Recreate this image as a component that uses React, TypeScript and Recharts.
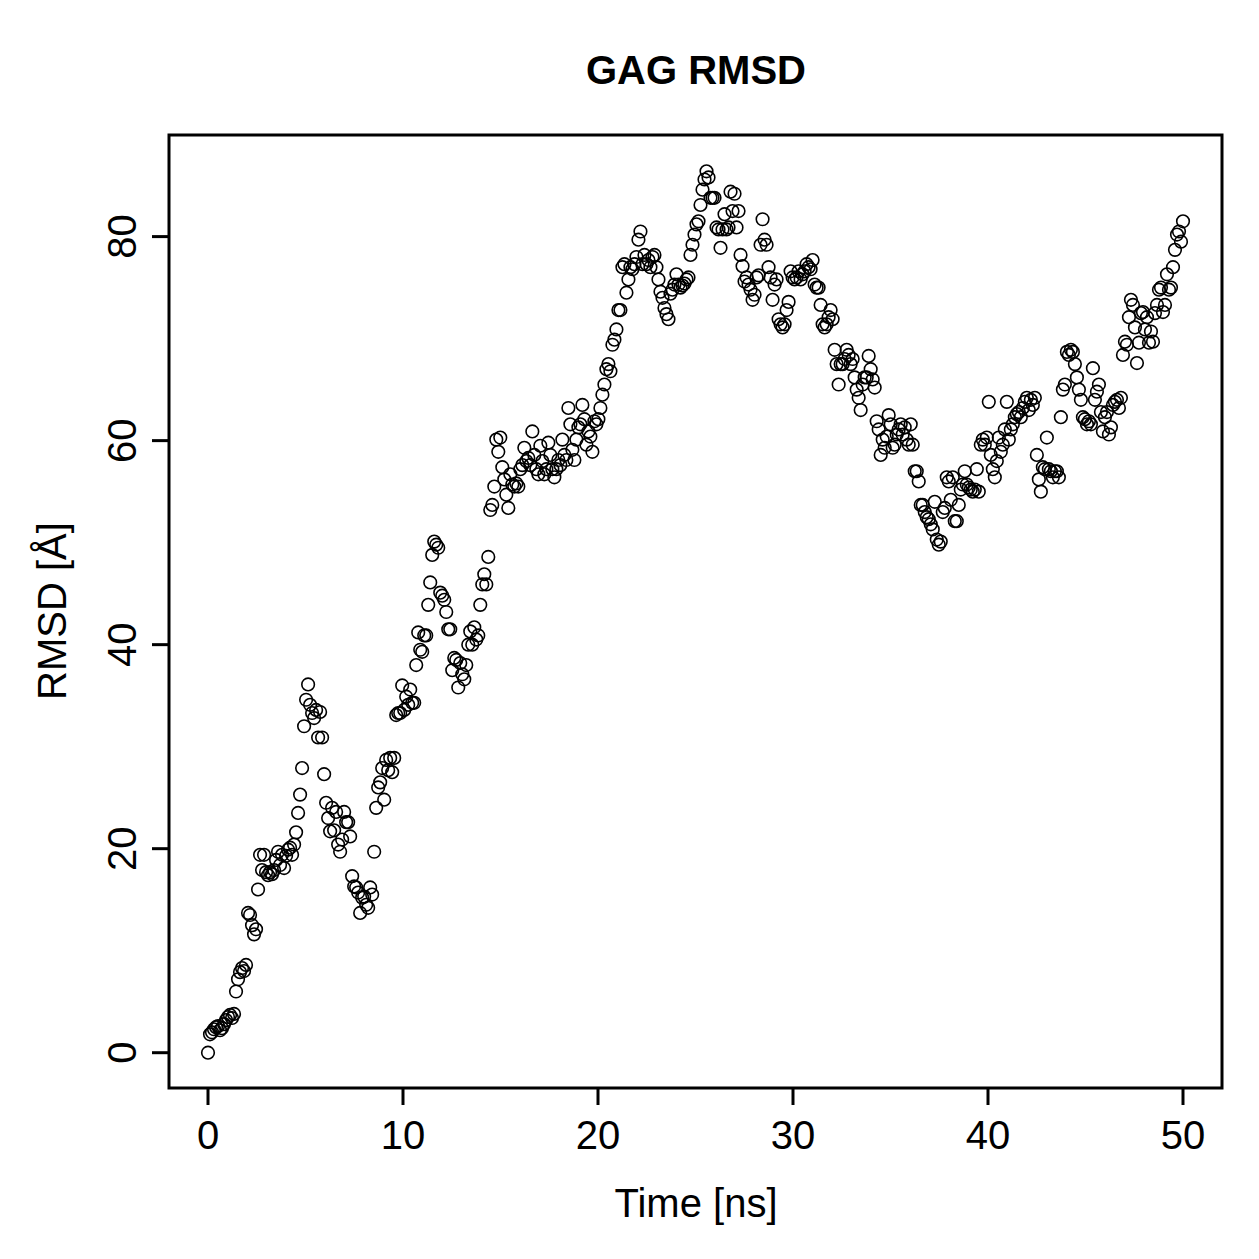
import { ScatterChart, Scatter, XAxis, YAxis, ReferenceArea } from 'recharts'

// RMSD of the GAG over 50 ns, every 0.1 ns
const rmsd = [
  0, 1.8, 2.0, 2.3, 2.5, 2.6, 2.2, 2.4, 2.8, 3.2,
  3.5, 3.7, 3.4, 3.8, 6.0, 7.2, 7.9, 8.3, 8.0, 8.6,
  13.7, 13.5, 12.5, 11.6, 12.1, 16.0, 19.4, 17.9, 19.4, 17.7,
  17.4, 17.7, 17.5, 17.9, 18.9, 19.7, 18.4, 19.4, 18.1, 19.3,
  19.9, 20.1, 19.4, 20.4, 21.6, 23.5, 25.3, 27.9, 32.0, 34.6,
  36.1, 34.1, 33.3, 32.8, 33.6, 30.9, 33.4, 30.9, 27.3, 24.5,
  23.0, 21.7, 24.0, 21.8, 23.6, 20.4, 19.7, 20.9, 23.6, 22.6,
  22.6, 21.2, 17.3, 16.3, 16.2, 15.7, 13.7, 15.2, 15.3, 14.5,
  14.2, 16.2, 15.5, 19.7, 24.0, 26.0, 26.5, 27.9, 24.8, 28.7,
  27.7, 28.9, 27.5, 28.9, 33.1, 33.3, 33.3, 36.0, 33.6, 34.9,
  34.1, 35.6, 34.3, 34.3, 38.0, 41.2, 39.5, 39.3, 40.9, 40.9,
  43.9, 46.1, 48.8, 50.1, 49.8, 49.5, 45.1, 44.8, 44.4, 43.2,
  41.5, 41.5, 37.5, 38.7, 38.5, 35.8, 38.2, 37.1, 36.6, 38.0,
  40.0, 41.3, 40.0, 41.7, 40.5, 40.9, 43.9, 45.9, 46.9, 45.9,
  48.6, 53.2, 53.7, 55.5, 60.1, 58.9, 60.3, 57.4, 56.2, 54.7,
  53.4, 56.7, 55.7, 55.5, 55.8, 55.5, 57.2, 57.6, 59.3, 58.0,
  58.3, 57.6, 60.9, 58.6, 57.2, 56.7, 59.5, 58.0, 56.7, 57.2,
  59.8, 58.6, 57.2, 56.4, 57.2, 58.1, 57.6, 60.1, 58.6, 58.1,
  63.2, 61.6, 59.1, 58.1, 60.1, 61.3, 61.6, 63.5, 62.1, 59.6,
  60.9, 60.4, 58.9, 61.9, 61.6, 62.1, 63.2, 64.5, 65.5, 67.0,
  67.5, 66.8, 69.4, 69.9, 70.9, 72.8, 72.8, 77.0, 77.3, 74.5,
  75.8, 77.0, 76.8, 77.3, 78.0, 79.7, 80.5, 77.3, 78.2, 77.3,
  77.7, 77.0, 78.0, 78.2, 77.0, 75.8, 74.6, 74.0, 73.0, 72.4,
  71.9, 74.4, 74.8, 75.3, 76.3, 75.3, 75.0, 75.2, 75.4, 75.8,
  76.0, 78.2, 79.2, 80.2, 81.2, 81.5, 83.1, 84.6, 85.6, 86.4,
  85.8, 83.8, 83.8, 83.8, 80.9, 80.7, 78.9, 80.7, 82.2, 80.7,
  80.9, 84.4, 82.5, 84.2, 80.9, 82.5, 78.2, 77.1, 75.6, 76.0,
  75.3, 74.8, 73.8, 74.3, 76.0, 76.2, 79.2, 81.7, 79.7, 79.2,
  77.0, 76.0, 73.8, 75.3, 75.8, 71.9, 71.4, 71.1, 71.4, 72.8,
  73.6, 76.6, 76.0, 75.8, 76.0, 76.6, 75.8, 76.3, 76.6, 77.3,
  77.0, 76.8, 77.7, 75.3, 75.0, 75.0, 73.3, 71.4, 71.1, 71.4,
  72.1, 72.8, 71.9, 68.9, 67.5, 65.5, 67.5, 67.5, 68.0, 68.9,
  68.4, 67.5, 68.0, 66.2, 65.0, 64.2, 63.0, 65.5, 66.2, 66.2,
  68.3, 67.0, 66.0, 65.2, 61.9, 61.1, 58.6, 60.1, 59.3, 60.4,
  62.5, 61.6, 59.3, 59.6, 60.6, 61.1, 61.6, 60.6, 61.3, 60.1,
  59.6, 61.6, 59.6, 57.0, 57.0, 56.0, 53.7, 53.7, 53.0, 52.5,
  52.3, 51.8, 51.3, 54.0, 50.3, 49.8, 50.1, 53.0, 53.4, 56.4,
  56.0, 54.2, 56.4, 52.1, 52.1, 53.7, 55.2, 55.7, 57.0, 55.7,
  55.4, 55.2, 55.0, 55.2, 57.2, 55.0, 59.6, 60.1, 59.6, 60.3,
  63.8, 58.6, 57.2, 56.4, 58.0, 60.3, 58.9, 59.6, 61.1, 63.8,
  60.1, 61.1, 61.6, 62.3, 62.6, 62.8, 62.3, 63.2, 63.8, 64.2,
  63.0, 64.0, 63.5, 64.2, 58.6, 56.2, 55.0, 57.4, 57.2, 60.3,
  57.2, 57.0, 56.4, 57.0, 57.0, 56.4, 62.3, 65.0, 65.5, 68.7,
  68.4, 68.9, 68.7, 67.5, 66.2, 65.0, 64.0, 62.3, 62.1, 61.6,
  61.9, 61.6, 67.1, 64.0, 64.8, 65.5, 62.8, 60.9, 62.3, 62.8,
  60.6, 61.3, 63.5, 63.8, 64.0, 63.2, 64.2, 68.4, 69.7, 69.4,
  72.1, 73.8, 73.3, 71.1, 67.6, 69.6, 72.5, 72.6, 70.9, 72.1,
  69.6, 70.7, 69.7, 72.5, 73.3, 74.8, 75.0, 72.6, 73.3, 76.3,
  74.8, 75.0, 77.0, 78.7, 80.2, 80.5, 79.5, 81.5,
]

const xTicks = [0, 10, 20, 30, 40, 50]
const yTicks = [0, 20, 40, 60, 80]

const T_END = 50
const step = T_END / (rmsd.length - 1)
const data = rmsd.map((v, i) => ({ t: i * step, v }))

const font = '"Liberation Sans", Arial, Helvetica, sans-serif'
const X_DOMAIN: [number, number] = [-2, 52]
const Y_DOMAIN: [number, number] = [-3.46, 89.96]

const XTick = ({ x, y, payload }: any) => (
  <text x={x} y={y + 44} textAnchor="middle" fontSize={40} fontFamily={font} fill="#000">
    {payload.value}
  </text>
)

const YTick = ({ x, y, payload }: any) => (
  <text
    x={x - 30}
    y={y}
    dy="0.36em"
    textAnchor="middle"
    fontSize={40}
    fontFamily={font}
    fill="#000"
    transform={`rotate(-90, ${x - 30}, ${y})`}
  >
    {payload.value}
  </text>
)

const Ring = (p: any) => (
  <circle cx={p.cx} cy={p.cy} r={6.3} fill="none" stroke="#000" strokeWidth={1.6} />
)

export default function App() {
  return (
    <div style={{ position: 'absolute', left: 0, top: 0, width: 1259, height: 1259, background: '#fff', fontFamily: font }}>
      <div style={{ position: 'absolute', left: 170, width: 1052, top: 50, fontSize: 40, lineHeight: '40px', fontWeight: 'bold', textAlign: 'center' }}>
        GAG RMSD
      </div>
      <div style={{ position: 'absolute', left: 170, width: 1052, top: 1183, fontSize: 40, lineHeight: '40px', textAlign: 'center' }}>
        Time [ns]
      </div>
      <div
        style={{
          position: 'absolute', left: 52 - 200, top: 611 - 20, width: 400, fontSize: 40, lineHeight: '40px',
          textAlign: 'center', transform: 'rotate(-90deg)',
        }}
      >
        RMSD [Å]
      </div>
      <ScatterChart width={1259} height={1259} margin={{ top: 135, right: 37, bottom: 0, left: 0 }}>
        <XAxis
          type="number"
          dataKey="t"
          domain={X_DOMAIN}
          ticks={xTicks}
          interval={0}
          height={171}
          axisLine={false}
          tickLine={{ stroke: '#000', strokeWidth: 3 }}
          tickSize={17}
          tickMargin={0}
          tick={<XTick />}
          allowDataOverflow
        />
        <YAxis
          type="number"
          dataKey="v"
          domain={Y_DOMAIN}
          ticks={yTicks}
          interval={0}
          width={169}
          axisLine={false}
          tickLine={{ stroke: '#000', strokeWidth: 3 }}
          tickSize={17}
          tickMargin={0}
          tick={<YTick />}
          allowDataOverflow
        />
        <Scatter data={data} shape={Ring} isAnimationActive={false} />
        <ReferenceArea
          x1={X_DOMAIN[0]}
          x2={X_DOMAIN[1]}
          y1={Y_DOMAIN[0]}
          y2={Y_DOMAIN[1]}
          fill="none"
          stroke="#000"
          strokeWidth={3}
          ifOverflow="visible"
        />
      </ScatterChart>
    </div>
  )
}
